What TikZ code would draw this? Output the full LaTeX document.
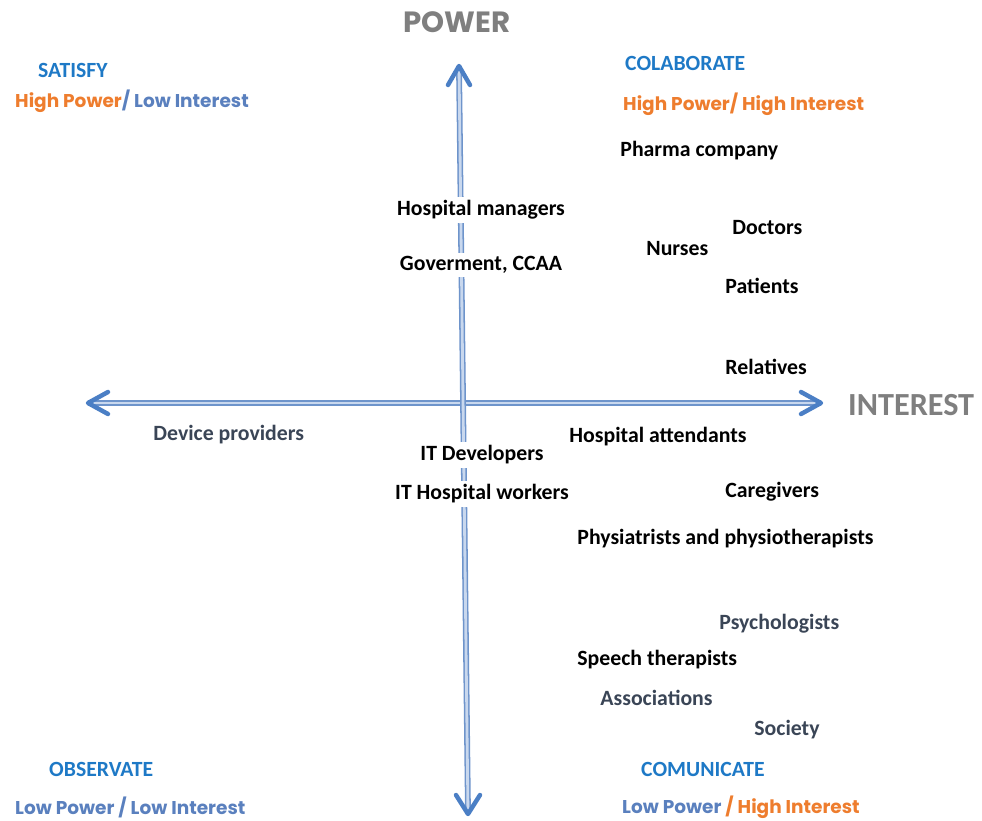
\documentclass[tikz,border=0pt]{standalone}
\usepackage{fontspec}
\setmainfont{Carlito}
\newfontfamily\gothic{Poppins}
\usetikzlibrary{calc}
\definecolor{headblue}{HTML}{1E79C6}
\definecolor{orng}{HTML}{EE7D2E}
\definecolor{lowblue}{HTML}{5A80BE}
\definecolor{slate}{HTML}{3A4556}
\definecolor{axisgray}{HTML}{7F7F7F}
\definecolor{axisdark}{HTML}{6E94CB}
\definecolor{axislight}{HTML}{C9D8EE}
\definecolor{tipblue}{HTML}{4B7FC5}
\tikzset{
  who/.style={font=\bfseries\fontsize{18.6}{20}\selectfont, text=black, inner sep=1pt, anchor=west},
  whogray/.style={who, text=slate},
  onaxis/.style={who, anchor=center, fill=white, inner sep=3pt},
  quadhead/.style={font=\bfseries\fontsize{18.5}{20}\selectfont, text=headblue, anchor=west, inner sep=0pt},
  quadsub/.style={font=\gothic\bfseries\fontsize{15.8}{18}\selectfont, anchor=west, inner sep=0pt},
  axisline/.style={draw=axisdark, line width=1.3pt, double=axislight, double distance=2.4pt},
  axistip/.style={draw=tipblue, line width=3.8pt, line cap=round, line join=round},
}
\begin{document}
\begin{tikzpicture}[x=0.03cm, y=-0.03cm]
\useasboundingbox (0,0) rectangle (982,821);
% Axes
\coordinate (powtop) at (459,66);
\coordinate (powbot) at (468,814);
\coordinate (intleft) at (88,403);
\coordinate (intright) at (821,403);
\draw[axisline] (intleft) -- (intright);
\draw[axisline] (powbot) -- (powtop);
\draw[axistip] ($(powtop)+(-11,19)$) -- (powtop) -- ($(powtop)+(11,19)$);
\draw[axistip] ($(powbot)+(-12,-19)$) -- (powbot) -- ($(powbot)+(12,-19)$);
\draw[axistip] ($(intleft)+(20,-11)$) -- (intleft) -- ($(intleft)+(20,11)$);
\draw[axistip] ($(intright)+(-20,-11)$) -- (intright) -- ($(intright)+(-20,11)$);
\node[text=axisgray, font=\gothic\bfseries\fontsize{25}{28}\selectfont] (power) at (457,22) {POWER};
\node[text=axisgray, font=\bfseries\fontsize{27.5}{30}\selectfont, anchor=west, inner sep=0pt] (interest) at (848,405) {INTEREST};
%
% Quadrant labels
\node[quadhead] (satisfy) at (38,70) {SATISFY};
\node[quadsub] (satisfysub) at (15,101) {\color{orng}High Power\color{lowblue}/ Low Interest};
\node[quadhead] (colab) at (625,63) {COLABORATE};
\node[quadsub] (colabsub) at (623,104) {\color{orng}High Power/ High Interest};
\node[quadhead] (observe) at (49,769) {OBSERVATE};
\node[quadsub] (observesub) at (15,807) {\color{lowblue}Low Power / Low Interest};
\node[quadhead] (comm) at (641,769) {COMUNICATE};
\node[quadsub] (commsub) at (622,807) {\color{lowblue}Low Power \color{orng}/ High Interest};
%
% Stakeholders
\node[who] (pharma) at (619,151) {Pharma company};
\node[onaxis] (hospmgr) at (481,210) {Hospital managers};
\node[onaxis] (gov) at (481,265) {Goverment, CCAA};
\node[who] (doctors) at (731,228) {Doctors};
\node[who] (nurses) at (645,249) {Nurses};
\node[who] (patients) at (724,286) {Patients};
\node[who] (relatives) at (724,367) {Relatives};
\node[whogray] (devices) at (152,435) {Device providers};
\node[who] (attend) at (568,437) {Hospital attendants};
\node[onaxis] (itdev) at (482,455) {IT Developers};
\node[onaxis] (ithosp) at (482,494) {IT Hospital workers};
\node[who] (caregivers) at (724,492) {Caregivers};
\node[who] (physio) at (576,539) {Physiatrists and physiotherapists};
\node[whogray] (psych) at (718,624) {Psychologists};
\node[who] (speech) at (576,660) {Speech therapists};
\node[whogray] (assoc) at (599,698) {Associations};
\node[whogray] (society) at (753,730) {Society};
\end{tikzpicture}
\end{document}
